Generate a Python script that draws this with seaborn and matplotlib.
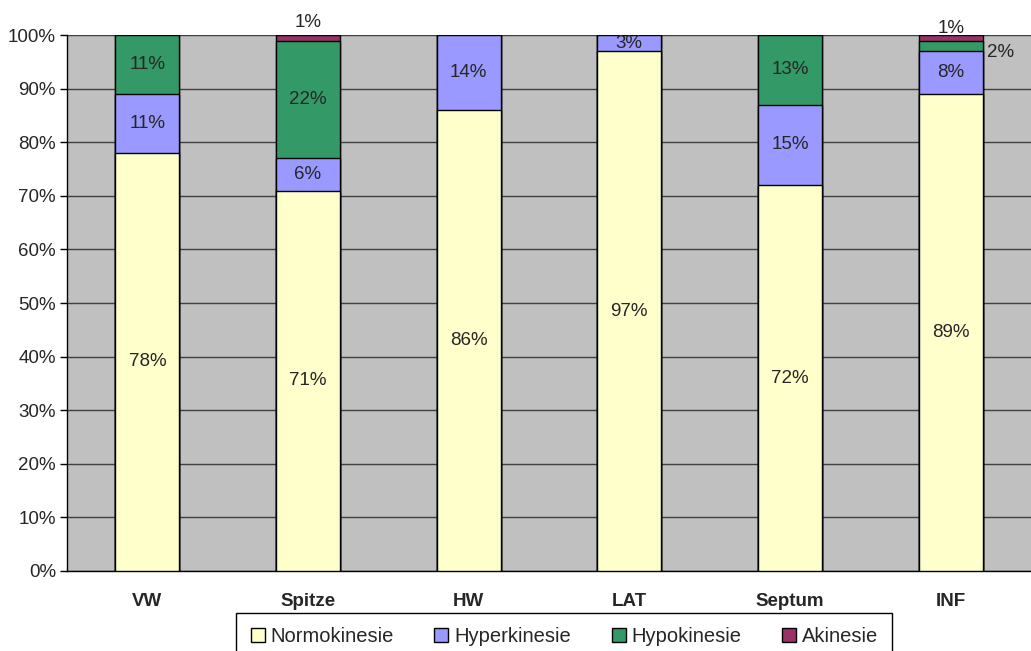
import pandas as pd
import matplotlib.pyplot as plt
import seaborn as sns

# Wall motion per segment (percent)
segments = ['VW', 'Spitze', 'HW', 'LAT', 'Septum', 'INF']
normokinesie = [78, 71, 86, 97, 72, 89]
hyperkinesie = [11, 6, 14, 3, 15, 8]
hypokinesie = [11, 22, 0, 0, 13, 2]
akinesie = [0, 1, 0, 0, 0, 1]

series = ['Normokinesie', 'Hyperkinesie', 'Hypokinesie', 'Akinesie']
colors = ['#FFFFCC', '#9999FF', '#339966', '#993366']

df = pd.DataFrame({'Segment': segments, 'Normokinesie': normokinesie,
                   'Hyperkinesie': hyperkinesie, 'Hypokinesie': hypokinesie,
                   'Akinesie': akinesie})
cum = df[series].cumsum(axis=1)
cum['Segment'] = df['Segment']

sns.set_style('white')
plt.rcParams['font.family'] = ['Liberation Sans', 'DejaVu Sans']
fs = 13.5

fig = plt.figure(figsize=(10.31, 6.51), dpi=100)
ax = fig.add_axes([0.065, 0.123, 0.935, 0.823])
ax.set_facecolor('#C0C0C0')

# draw cumulative totals from the top series down, so each sits on the one below
for name, col in reversed(list(zip(series, colors))):
    sns.barplot(data=cum, x='Segment', y=name, color=col, width=0.4,
                edgecolor='black', linewidth=1, saturation=1, ax=ax,
                zorder=3, legend=False)

ax.set_ylim(0, 100)
ax.set_xlim(-0.5, len(segments) - 0.5)
ax.set_yticks(range(0, 101, 10))
ax.set_yticklabels([f'{v}%' for v in range(0, 101, 10)], fontsize=fs)
ax.yaxis.grid(True, color='#404040', linewidth=1, zorder=0)
ax.set_axisbelow(True)
ax.set_xlabel('')
ax.set_ylabel('')
ax.set_xticks(range(len(segments)))
ax.set_xticklabels(segments, fontsize=fs, fontweight='bold')
ax.tick_params(axis='x', length=0, pad=16)
ax.set_xticks([i - 0.5 for i in range(len(segments) + 1)], minor=True)
ax.tick_params(axis='x', which='minor', length=5, color='black', width=1)
ax.tick_params(axis='y', length=5, color='black', width=1, left=True, pad=3)

for side in ['top', 'right']:
    ax.spines[side].set_visible(False)
for side in ['left', 'bottom']:
    ax.spines[side].set_color('black')
    ax.spines[side].set_linewidth(1)

# value labels
for i in range(len(segments)):
    base = 0
    for name in series:
        v = df.loc[i, name]
        if v >= 3:
            ax.text(i, base + v / 2, f'{v}%', ha='center', va='center',
                    fontsize=fs, zorder=5)
        base += v

# small segments labelled outside the bars
ax.annotate(f'{akinesie[1]}%', (1, 100), xytext=(0, 3), textcoords='offset points',
            ha='center', va='bottom', fontsize=fs, annotation_clip=False)
ax.annotate(f'{akinesie[5]}%', (5, 100), xytext=(0, -1), textcoords='offset points',
            ha='center', va='bottom', fontsize=fs, annotation_clip=False)
ax.annotate(f'{hypokinesie[5]}%', (5.2, normokinesie[5] + hyperkinesie[5] + hypokinesie[5] / 2),
            xytext=(3, -5), textcoords='offset points', ha='left', va='center',
            fontsize=fs, annotation_clip=False)

handles = [plt.Rectangle((0, 0), 1, 1, facecolor=c, edgecolor='black', linewidth=1)
           for c in colors]
leg = fig.legend(handles, series, loc='upper center', bbox_to_anchor=(0.5475, 0.0584),
                 ncol=4, fontsize=14.5, frameon=True, fancybox=False, edgecolor='black',
                 handlelength=0.7, handleheight=0.7, handletextpad=0.3,
                 columnspacing=2.0, borderpad=0.7, borderaxespad=0, framealpha=1)
leg.get_frame().set_linewidth(1)

fig.savefig('out.png', dpi=100, facecolor='white')
